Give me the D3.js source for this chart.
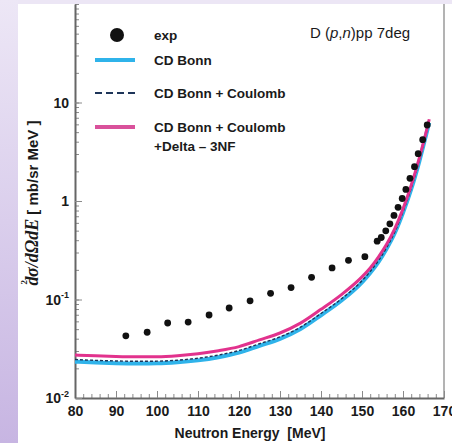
<!DOCTYPE html>
<html>
<head>
<meta charset="utf-8">
<script src="https://cdn.jsdelivr.net/npm/d3@7"></script>
<style>
  html, body { margin: 0; padding: 0; background: #fff; }
  svg { display: block; }
  text { font-family: "Liberation Sans", Arial, sans-serif; fill: #1a1a1a; }
</style>
</head>
<body>
<svg id="chart" width="452" height="443"></svg>
<script>
// Measured cross sections (neutron energy in MeV, d2σ/dΩdE in mb/sr MeV)
const expEnergy = [92.4, 97.6, 102.6, 107.6, 112.7, 117.6, 122.7, 127.7, 132.7, 137.7,
                   142.7, 146.7, 150.7, 153.7, 154.7, 155.8, 156.8, 157.8, 158.8, 159.8,
                   160.7, 161.7, 162.8, 163.7, 164.8, 165.9];
const expValue = [0.0428, 0.0465, 0.0577, 0.059, 0.0696, 0.082, 0.097, 0.1156, 0.132, 0.168,
                  0.209, 0.250, 0.272, 0.391, 0.426, 0.498, 0.586, 0.713, 0.863, 1.06,
                  1.31, 1.70, 2.23, 3.02, 4.19, 5.91];

// Calculations on a common energy grid
const theoryEnergy = [80, 85, 90, 95, 100, 105, 110, 115, 120, 125, 130, 135, 140, 145,
                      150, 152, 154, 156, 158, 160, 162, 164, 166, 166.4];
const cdBonn = [0.02339, 0.02291, 0.02259, 0.02244, 0.02249, 0.02301, 0.02410, 0.02594,
                0.02884, 0.03388, 0.03981, 0.05012, 0.06918, 0.09772, 0.1496, 0.1862,
                0.2399, 0.3273, 0.4732, 0.7586, 1.318, 2.541, 5.370, 6.237];
const cdBonnCoulomb = [0.02460, 0.02410, 0.02377, 0.02360, 0.02366, 0.02421, 0.02535, 0.02729,
                       0.03034, 0.03556, 0.04169, 0.05236, 0.07211, 0.1016, 0.1549, 0.1923,
                       0.2472, 0.3365, 0.4853, 0.7762, 1.349, 2.600, 5.495, 6.383];
const cdBonnCoulomb3NF = [0.02735, 0.02679, 0.02642, 0.02624, 0.02630, 0.02692, 0.02818, 0.03020,
                          0.03327, 0.03890, 0.04571, 0.05754, 0.07943, 0.1122, 0.1698, 0.2089,
                          0.2692, 0.3631, 0.5248, 0.8318, 1.445, 2.754, 5.754, 6.761];

// Axis ticks
const xTickValues = [80, 90, 100, 110, 120, 130, 140, 150, 160, 170];
const yTickValues = [0.01, 0.1, 1, 10];
const yTickBase = ["10", "10", "1", "10"];
const yTickExp = ["-2", "-1", "", ""];

const legendLabels = ["exp", "CD Bonn", "CD Bonn + Coulomb", "CD Bonn + Coulomb"];

const svg = d3.select("#chart");
const W = 452, H = 443;
const plot = { left: 75, right: 444, top: 4, bottom: 398 };

// Slide background: lavender band along the top and a gradient strip on the left
const defs = svg.append("defs");
const grad = defs.append("linearGradient").attr("id", "strip")
  .attr("x1", 0).attr("y1", 0).attr("x2", 0).attr("y2", 1);
grad.append("stop").attr("offset", "0%").attr("stop-color", "#ede7f6");
grad.append("stop").attr("offset", "100%").attr("stop-color", "#c7b5e2");
svg.append("rect").attr("x", 0).attr("y", 0).attr("width", W).attr("height", H).attr("fill", "#fff");
svg.append("rect").attr("x", 0).attr("y", 0).attr("width", W).attr("height", 4).attr("fill", "#ece6f5");
svg.append("rect").attr("x", 0).attr("y", 0).attr("width", 18).attr("height", H).attr("fill", "url(#strip)");

const x = d3.scaleLinear().domain([80, 170]).range([plot.left, plot.right]);
const y = d3.scaleLog().domain([0.01, 100]).range([plot.bottom, plot.top]);

// Frame
svg.append("line").attr("x1", plot.right).attr("x2", plot.right)
  .attr("y1", plot.top).attr("y2", plot.bottom)
  .attr("stroke", "#9a9a9a").attr("stroke-width", 1.5);

// x axis: minor ticks every 2 MeV, major every 10 MeV, pointing inward
const xMinor = d3.range(80, 171, 2);
const xAxisMinor = d3.axisBottom(x).tickValues(xMinor).tickSize(-4).tickFormat("");
const gxm = svg.append("g").attr("transform", `translate(0,${plot.bottom})`).call(xAxisMinor);
gxm.select(".domain").remove();
gxm.selectAll(".tick line").attr("stroke", "#8a8a8a").attr("stroke-width", 1);

const xAxis = d3.axisBottom(x).tickValues(xTickValues).tickSizeInner(-7).tickSizeOuter(0).tickPadding(5)
  .tickFormat(d3.format("d"));
const gx = svg.append("g").attr("transform", `translate(0,${plot.bottom})`).call(xAxis);
gx.select(".domain").attr("stroke", "#666").attr("stroke-width", 2);
gx.selectAll(".tick line").attr("stroke", "#8a8a8a").attr("stroke-width", 1);
gx.selectAll(".tick text")
  .attr("font-family", "Liberation Sans, Arial, sans-serif")
  .attr("font-size", 14).attr("font-weight", "bold").attr("fill", "#1a1a1a")
  .attr("dy", "0.95em");

// y axis: logarithmic minor ticks and decade labels with exponents
const yAxisMinor = d3.axisLeft(y).tickValues(y.ticks()).tickSize(-4).tickFormat("");
const gym = svg.append("g").attr("transform", `translate(${plot.left},0)`).call(yAxisMinor);
gym.select(".domain").remove();
gym.selectAll(".tick line").attr("stroke", "#8a8a8a").attr("stroke-width", 1);

const yAxis = d3.axisLeft(y).tickValues(yTickValues).tickSizeInner(-7).tickSizeOuter(0).tickPadding(8)
  .tickFormat("");
const gy = svg.append("g").attr("transform", `translate(${plot.left},0)`).call(yAxis);
gy.select(".domain").attr("stroke", "#666").attr("stroke-width", 2);
gy.selectAll(".tick line").attr("stroke", "#8a8a8a").attr("stroke-width", 1);
gy.selectAll(".tick text").each(function (d, i) {
  const t = d3.select(this)
    .attr("font-family", "Liberation Sans, Arial, sans-serif")
    .attr("font-size", 14).attr("font-weight", "bold").attr("fill", "#1a1a1a")
    .attr("text-anchor", "end").attr("x", -6).attr("dy", "0.35em");
  t.append("tspan").text(yTickBase[i]);
  if (yTickExp[i]) {
    t.append("tspan").attr("font-size", 9).attr("dy", "-0.75em").text(yTickExp[i]);
  }
});

// Theory curves
const line = d3.line().x(d => x(d[0])).y(d => y(d[1])).curve(d3.curveMonotoneX);
const series = arr => theoryEnergy.map((e, i) => [e, arr[i]]);

svg.append("path").datum(series(cdBonn)).attr("d", line)
  .attr("fill", "none").attr("stroke", "#2fb3ea").attr("stroke-width", 4);
svg.append("path").datum(series(cdBonnCoulomb)).attr("d", line)
  .attr("fill", "none").attr("stroke", "#1e3559").attr("stroke-width", 1.4)
  .attr("stroke-dasharray", "3,2");
svg.append("path").datum(series(cdBonnCoulomb3NF)).attr("d", line)
  .attr("fill", "none").attr("stroke", "#e2328d").attr("stroke-width", 3);

// Experimental points
svg.append("g").selectAll("circle").data(expEnergy).join("circle")
  .attr("cx", d => x(d))
  .attr("cy", (d, i) => y(expValue[i]))
  .attr("r", 3.4).attr("fill", "#111");

// Legend
const lg = svg.append("g");
lg.append("circle").attr("cx", 117).attr("cy", 35).attr("r", 7).attr("fill", "#111");
lg.append("line").attr("x1", 95).attr("x2", 135).attr("y1", 60).attr("y2", 60)
  .attr("stroke", "#2fb3ea").attr("stroke-width", 4);
lg.append("line").attr("x1", 95).attr("x2", 135).attr("y1", 93).attr("y2", 93)
  .attr("stroke", "#1e3559").attr("stroke-width", 2).attr("stroke-dasharray", "7,4");
lg.append("line").attr("x1", 95).attr("x2", 135).attr("y1", 127).attr("y2", 127)
  .attr("stroke", "#d9519b").attr("stroke-width", 4);
const legendY = [35, 60, 93, 127];
legendLabels.forEach((lab, i) => {
  lg.append("text").attr("x", 154).attr("y", legendY[i]).attr("dy", "0.35em")
    .attr("font-size", 13.5).attr("font-weight", "bold").text(lab);
});
lg.append("text").attr("x", 154).attr("y", 146).attr("dy", "0.35em")
  .attr("font-size", 13.5).attr("font-weight", "bold").text("+Delta \u2013 3NF");

// Reaction annotation
const ann = svg.append("text").attr("x", 310).attr("y", 33).attr("dy", "0.35em").attr("font-size", 15);
ann.append("tspan").text("D (");
ann.append("tspan").attr("font-style", "italic").text("p");
ann.append("tspan").text(",");
ann.append("tspan").attr("font-style", "italic").text("n");
ann.append("tspan").text(")pp  7deg");

// Axis titles
svg.append("text").attr("x", 250).attr("y", 433).attr("text-anchor", "middle")
  .attr("font-size", 14).attr("font-weight", "bold").attr("dy", "0.35em")
  .attr("xml:space", "preserve").text("Neutron Energy  [MeV]");

// y title: d²σ/dΩdE with the order index stacked over the first d
const yt = svg.append("text").attr("transform", "translate(33,203) rotate(-90)")
  .attr("text-anchor", "middle").attr("dy", "0.35em").attr("font-size", 15).attr("font-weight", "bold");
yt.append("tspan").attr("font-family", "Liberation Serif, serif").attr("font-style", "italic")
  .attr("font-size", 18).text("d");
yt.append("tspan").attr("font-family", "Liberation Serif, serif")
  .attr("font-size", 9).attr("dx", -8).attr("dy", -11).text("2");
yt.append("tspan").attr("font-family", "Liberation Serif, serif").attr("font-style", "italic")
  .attr("font-size", 18).attr("dx", 3).attr("dy", 11).text("\u03c3/d\u03a9dE");
yt.append("tspan").text(" [ mb/sr MeV ]");
</script>
</body>
</html>
